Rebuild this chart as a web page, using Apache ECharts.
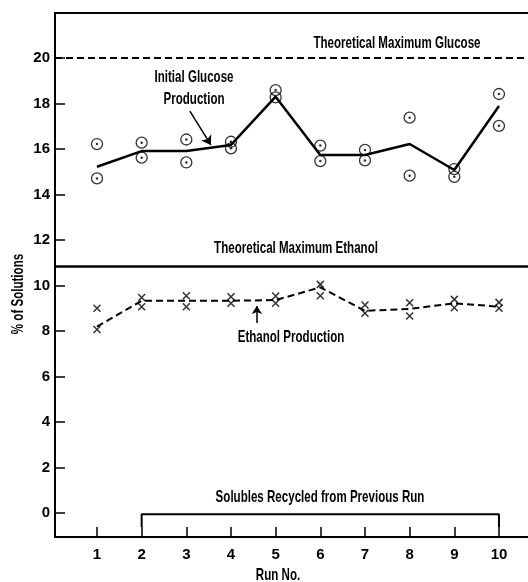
<!DOCTYPE html>
<html>
<head>
<meta charset="utf-8">
<script src="https://cdn.jsdelivr.net/npm/echarts@6/dist/echarts.min.js"></script>
<style>
  html, body { margin: 0; padding: 0; background: #fff; }
  #chart { width: 528px; height: 582px; }
</style>
</head>
<body>
<div id="chart"></div>
<script>
// run numbers and tick values
const runs = [1, 2, 3, 4, 5, 6, 7, 8, 9, 10]
const yTicks = [0, 2, 4, 6, 8, 10, 12, 14, 16, 18, 20]

// glucose (% of solutions): curve + the two measured points per run
const glucoseLine = [15.22, 15.91, 15.91, 16.18, 18.30, 15.74, 15.74, 16.22, 15.08, 17.89]
const glucoseHigh = [16.22, 16.28, 16.42, 16.32, 18.59, 16.15, 15.96, 17.38, 15.12, 18.42]
const glucoseLow = [14.71, 15.62, 15.41, 16.03, 18.27, 15.47, 15.50, 14.83, 14.78, 17.02]

// ethanol (% of solutions)
const ethanolLine = [8.19, 9.33, 9.33, 9.33, 9.36, 9.92, 8.89, 8.97, 9.22, 9.07]
const ethanolHigh = [9.00, 9.47, 9.55, 9.51, 9.54, 10.05, 9.14, 9.24, 9.39, 9.26]
const ethanolLow = [8.07, 9.07, 9.07, 9.22, 9.22, 9.55, 8.78, 8.66, 9.02, 9.00]

// theoretical maxima
const maxGlucose = 20
const maxEthanol = 10.83

// bracket "solubles recycled" from run 2 to run 10
const bracketX = [2, 2, 10, 10]
const bracketY = [-0.62, -0.05, -0.05, -0.62]

const pair = (xs, ys) => xs.map((x, i) => [x, ys[i]])

const FONT = "'Liberation Sans', Arial, sans-serif"

// condensed bold label, squeezed horizontally like the original lettering
function label (text, x, y, rot) {
  return {
    type: 'text',
    x: x,
    y: y,
    rotation: rot || 0,
    scaleX: 0.68,
    silent: true,
    style: {
      text: text,
      font: 'bold 17px ' + FONT,
      fill: '#000',
      textAlign: 'center',
      textVerticalAlign: 'middle',
      lineHeight: 22
    }
  }
}

let myChart = echarts.init(document.getElementById('chart'))
myChart.setOption({
  animation: false,
  backgroundColor: '#fff',
  grid: { left: 55, right: 0, top: 13, bottom: 45, outerBoundsMode: 'none' },
  xAxis: [
    {
      type: 'value',
      min: 0.06,
      max: 10.65,
      splitLine: { show: false },
      axisLine: { onZero: false, lineStyle: { color: '#000', width: 2 } },
      axisTick: { inside: true, length: 10, customValues: runs, lineStyle: { color: '#000', width: 1.5 } },
      axisLabel: { customValues: runs, margin: 10, color: '#000', fontFamily: FONT, fontWeight: 'bold', fontSize: 15 }
    },
    {
      type: 'value',
      position: 'top',
      min: 0.06,
      max: 10.65,
      splitLine: { show: false },
      axisLine: { onZero: false, lineStyle: { color: '#000', width: 2 } },
      axisTick: { show: false },
      axisLabel: { show: false }
    }
  ],
  yAxis: {
    type: 'value',
    min: -1.055,
    max: 21.98,
    splitLine: { show: false },
    axisLine: { show: true, onZero: false, lineStyle: { color: '#000', width: 2 } },
    axisTick: { show: true, inside: true, length: 10, customValues: yTicks, lineStyle: { color: '#000', width: 1.5 } },
    axisLabel: { customValues: yTicks, margin: 5, color: '#000', fontFamily: FONT, fontWeight: 'bold', fontSize: 15 }
  },
  series: [
    {
      type: 'line',
      data: pair(runs, glucoseLine),
      symbol: 'none',
      lineStyle: { color: '#000', width: 2.5 },
      markLine: {
        silent: true,
        symbol: ['none', 'none'],
        label: { show: false },
        data: [
          { yAxis: maxGlucose, lineStyle: { color: '#000', width: 2, type: [7, 4] } },
          { yAxis: maxEthanol, lineStyle: { color: '#000', width: 2.5, type: 'solid' } },
          [
            { coord: [3.08, 17.67], symbol: 'none' },
            { coord: [3.55, 16.18], symbol: 'arrow', symbolSize: 9, lineStyle: { color: '#000', width: 1.5, type: 'solid' } }
          ]
        ]
      }
    },
    {
      type: 'scatter',
      data: pair(runs, glucoseHigh).concat(pair(runs, glucoseLow)),
      symbol: 'circle',
      symbolSize: 11,
      itemStyle: { color: 'transparent', borderColor: '#000', borderWidth: 1.3 }
    },
    {
      type: 'scatter',
      data: pair(runs, glucoseHigh).concat(pair(runs, glucoseLow)),
      symbol: 'circle',
      symbolSize: 2.5,
      itemStyle: { color: '#000' }
    },
    {
      type: 'line',
      data: pair(runs, ethanolLine),
      symbol: 'none',
      lineStyle: { color: '#000', width: 2, type: [7, 4] },
      markLine: {
        silent: true,
        symbol: ['none', 'arrow'],
        symbolSize: 8,
        label: { show: false },
        lineStyle: { color: '#000', width: 1.5, type: 'solid' },
        data: [
          [{ coord: [4.58, 8.35] }, { coord: [4.58, 9.1] }]
        ]
      }
    },
    {
      type: 'scatter',
      data: pair(runs, ethanolHigh).concat(pair(runs, ethanolLow)),
      symbol: 'path://M0,0L10,10M10,0L0,10',
      symbolSize: 7,
      itemStyle: { color: 'transparent', borderColor: '#000', borderWidth: 1.5 }
    },
    {
      type: 'line',
      data: pair(bracketX, bracketY),
      symbol: 'none',
      lineStyle: { color: '#000', width: 2 }
    }
  ],
  graphic: [
    label('Theoretical Maximum Glucose', 397, 43),
    label('Initial Glucose\nProduction', 194, 88),
    label('Theoretical Maximum Ethanol', 296, 248),
    label('Ethanol Production', 291, 337),
    label('Solubles Recycled from Previous Run', 320, 497),
    label('Run No.', 278, 575),
    label('% of Solutions', 18, 294, Math.PI / 2)
  ]
})
</script>
</body>
</html>
